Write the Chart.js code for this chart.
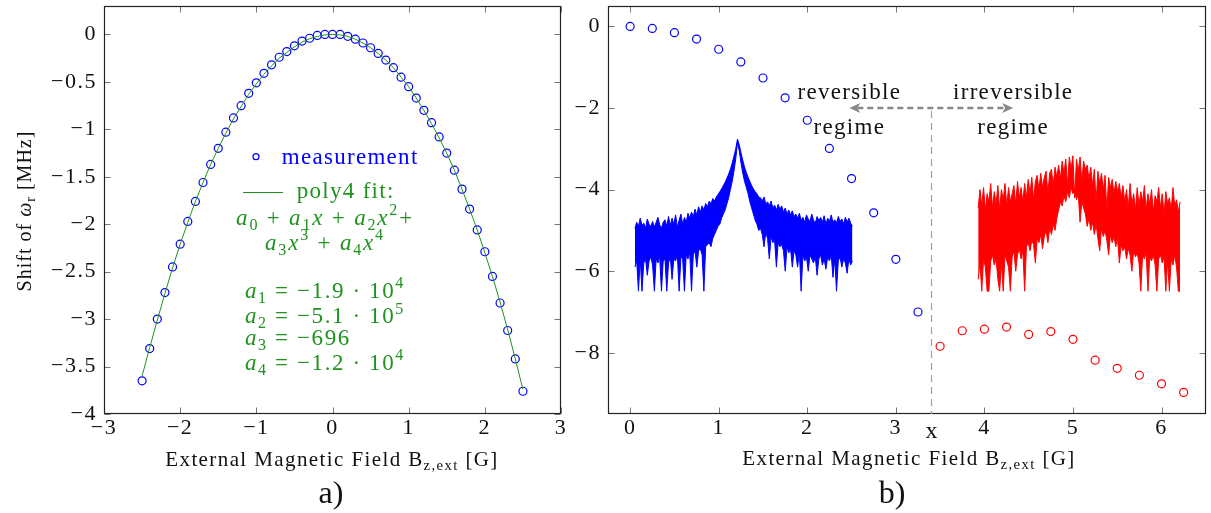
<!DOCTYPE html>
<html><head><meta charset="utf-8">
<script src="https://cdn.jsdelivr.net/npm/chart.js@4.4.1/dist/chart.umd.min.js"></script>
<style>
html,body{margin:0;padding:0;background:#fff;}
#wrap{position:relative;width:1211px;height:513px;overflow:hidden;background:#fff;}
canvas{position:absolute;top:0;}
#cL{left:0;} #cR{left:560px;}
</style></head><body>
<div id="wrap"><canvas id="cL" width="590" height="513"></canvas><canvas id="cR" width="651" height="513"></canvas></div>
<script>
// ---------- data: panel a) ----------
const leftX = [-2.5,-2.4,-2.3,-2.2,-2.1,-2.0,-1.9,-1.8,-1.7,-1.6,-1.5,-1.4,-1.3,-1.2,-1.1,-1.0,-0.9,-0.8,-0.7,-0.6,-0.5,-0.4,-0.3,-0.2,-0.1,0,
  0.1,0.2,0.3,0.4,0.5,0.6,0.7,0.8,0.9,1.0,1.1,1.2,1.3,1.4,1.5,1.6,1.7,1.8,1.9,2.0,2.1,2.2,2.3,2.4,2.5];
const leftMeas = [-3.65,-3.31,-3.00,-2.72,-2.45,-2.21,-1.97,-1.76,-1.56,-1.37,-1.20,-1.03,-0.88,-0.75,-0.62,-0.51,-0.41,-0.32,-0.24,-0.18,-0.12,-0.07,-0.04,-0.01,0.00,0.00,
  0.00,-0.02,-0.05,-0.09,-0.14,-0.20,-0.27,-0.35,-0.45,-0.55,-0.67,-0.80,-0.93,-1.08,-1.25,-1.43,-1.63,-1.84,-2.06,-2.29,-2.55,-2.83,-3.12,-3.42,-3.76];
const leftFit = [-3.60,-3.30,-3.01,-2.73,-2.46,-2.21,-1.98,-1.76,-1.56,-1.37,-1.20,-1.04,-0.89,-0.76,-0.63,-0.52,-0.42,-0.33,-0.25,-0.19,-0.13,-0.08,-0.045,-0.02,-0.005,0.00,
  -0.005,-0.02,-0.05,-0.09,-0.14,-0.20,-0.27,-0.35,-0.45,-0.55,-0.67,-0.80,-0.94,-1.09,-1.25,-1.43,-1.63,-1.84,-2.06,-2.30,-2.55,-2.82,-3.11,-3.42,-3.74];
const leftXTicks = [-3,-2,-1,0,1,2,3];
const leftYTicks = [0,-0.5,-1,-1.5,-2,-2.5,-3,-3.5,-4];

// ---------- data: panel b) ----------
const revX = [0,0.25,0.5,0.75,1,1.25,1.5,1.75,2,2.25,2.5,2.75,3,3.25];
const revY = [0,-0.05,-0.155,-0.31,-0.56,-0.87,-1.265,-1.75,-2.30,-2.99,-3.73,-4.57,-5.71,-7.0];
const irrX = [3.5,3.75,4,4.25,4.5,4.75,5,5.25,5.5,5.75,6,6.25];
const irrY = [-7.84,-7.46,-7.42,-7.37,-7.55,-7.48,-7.67,-8.18,-8.38,-8.55,-8.76,-8.97];
const rightXTicks = [0,1,2,3,4,5,6];
const rightYTicks = [0,-2,-4,-6,-8];
const boundaryLabel = 'x';
const boundaryX = 3.4;
const arrowY = -2;
const arrowTips = [2.475, 4.325];
// inset spectra: upper / lower envelopes (panel-b y units), sampled evenly over the x spans
const blueSpanX = [0.054, 2.51];
const blueUpper = [-4.95,-4.8,-4.9,-4.7,-4.88,-4.82,-4.95,-4.72,-4.85,-4.9,-4.78,-4.92,-4.8,-4.68,-4.86,-4.95,-4.8,-4.74,-4.9,-4.66,-4.88,-4.7,-4.85,-4.62,-4.92,-4.75,-4.6,-4.85,-4.68,
  -4.8,-4.58,-4.7,-4.55,-4.66,-4.48,-4.62,-4.42,-4.55,-4.4,-4.5,-4.34,-4.42,-4.28,-4.35,-4.22,-4.28,
  -4.18,-4.12,-4.05,-3.98,-3.9,-3.82,-3.72,-3.62,-3.5,-3.35,-3.18,-3.0,-2.76,
  -2.9,-3.1,-3.28,-3.45,-3.58,-3.7,-3.8,-3.9,-3.98,-4.05,-4.1,-4.18,
  -4.2,-4.28,-4.18,-4.35,-4.3,-4.4,-4.28,-4.45,-4.38,-4.5,-4.36,-4.48,-4.4,-4.55,-4.45,-4.6,-4.5,-4.62,-4.52,-4.66,
  -4.6,-4.7,-4.58,-4.75,-4.68,-4.8,-4.62,-4.72,-4.78,-4.6,-4.75,-4.82,-4.66,-4.76,-4.68,-4.8,-4.64,-4.85,-4.7,-4.78,-4.62,-4.8,-4.74,-4.82,-4.66,-4.78,-4.72,-4.84,-4.68,-4.8,-4.7,-4.82,-4.9];
const blueLower = [-5.9,-5.75,-6.49,-5.7,-6.49,-5.8,-5.7,-6.1,-5.75,-5.65,-5.85,-6.49,-5.7,-5.8,-5.65,-6.49,-5.75,-5.7,-6.49,-5.8,-5.65,-6.2,-5.7,-5.75,-5.6,-6.49,-5.65,-5.7,-6.49,
  -5.6,-5.7,-5.55,-6.49,-5.6,-5.5,-5.9,-5.5,-5.45,-5.6,-6.49,-5.4,-5.35,-5.3,-5.4,-5.2,-5.1,
  -5.0,-4.9,-4.85,-4.7,-4.6,-4.5,-4.35,-4.2,-4.0,-3.8,-3.55,-3.25,-2.85,
  -3.05,-3.35,-3.6,-3.8,-3.95,-4.1,-4.3,-4.45,-4.6,-4.75,-4.85,-5.0,
  -4.95,-5.1,-5.4,-5.05,-5.2,-5.7,-5.15,-5.3,-5.25,-5.9,-5.3,-5.4,-5.35,-5.5,-6.0,-5.4,-5.55,-5.45,-5.9,-5.5,
  -5.6,-5.9,-5.55,-6.49,-5.6,-5.75,-5.65,-6.0,-5.6,-5.7,-5.8,-5.65,-6.1,-5.7,-5.6,-5.85,-5.7,-5.95,-5.65,-5.75,-5.6,-6.15,-5.7,-6.49,-5.75,-5.65,-5.9,-5.7,-5.8,-6.05,-5.7,-5.85,-5.75];
const redSpanX = [3.93, 6.21];
const redUpper = [-4.45,-4.0,-4.4,-3.95,-4.5,-4.1,-4.3,-3.85,-4.45,-4.05,-4.35,-3.9,-4.5,-4.0,-4.25,-3.85,-4.4,-3.95,-4.3,-4.1,-3.9,-4.35,-3.8,-4.2,-3.95,-4.3,
  -3.85,-4.2,-3.75,-4.1,-3.7,-4.25,-3.8,-3.65,-4.0,-3.6,-3.95,-3.7,-3.55,-4.1,-3.6,-3.5,-3.9,-3.45,-3.7,
  -3.4,-3.75,-3.3,-3.6,-3.25,-3.9,-3.2,-3.5,-3.17,-4.2,-3.25,-3.55,-3.2,-3.8,-3.3,-3.5,
  -3.4,-3.75,-3.45,-3.9,-3.5,-4.3,-3.55,-3.85,-3.6,-4.0,-3.65,-4.5,-3.7,-3.95,-3.75,-4.1,-3.8,-4.05,-3.85,-4.2,
  -3.9,-4.3,-4.0,-4.45,-3.85,-4.35,-4.1,-4.5,-3.95,-4.4,-4.05,-4.3,-3.9,-4.5,-4.1,-4.35,-4.0,-4.55,-4.15,-4.3,-3.95,-4.45,-4.1,-4.6,-4.05,-4.35,-4.2,-4.5,-3.95,-4.4,-4.25,-4.55,-4.3];
const redLower = [-6.2,-5.8,-6.49,-5.7,-5.9,-6.49,-6.49,-5.75,-5.6,-5.85,-5.7,-6.2,-6.49,-5.8,-6.49,-5.6,-5.75,-5.9,-6.49,-5.65,-5.5,-6.0,-5.6,-5.45,-5.7,-5.5,
  -6.49,-5.4,-5.3,-5.5,-5.25,-5.35,-5.8,-5.2,-5.3,-5.1,-5.45,-5.15,-5.0,-5.3,-4.95,-5.1,-4.85,-5.0,-4.7,
  -4.5,-4.3,-4.4,-4.15,-4.3,-4.05,-4.2,-3.95,-4.1,-4.0,-4.25,-4.1,-4.8,-4.3,-4.45,-4.6,
  -4.9,-4.7,-5.0,-4.8,-5.1,-4.85,-5.2,-5.5,-4.95,-5.15,-5.0,-5.25,-5.6,-5.1,-5.3,-5.15,-5.4,-5.2,-5.8,-5.35,
  -5.5,-5.4,-5.7,-5.45,-5.6,-6.0,-5.5,-5.65,-5.55,-5.8,-6.49,-5.6,-5.7,-5.55,-6.49,-5.65,-5.75,-5.6,-5.85,-6.49,-5.7,-5.6,-5.8,-5.65,-6.49,-5.75,-6.49,-5.7,-5.85,-5.6,-5.9,-6.49,-6.49];

// ---------- styling ----------
const FONT = 'Liberation Serif';
const BLUE = '#0000ff', RED = '#ff0000', GREEN = 'rgb(32,146,32)';
const fmt = v => v < 0 ? '\u2212' + String(Math.abs(v)) : String(v);
const pts = (xs, ys) => xs.map((v, i) => ({x: v, y: ys[i]}));
const spec = (span, ys) => ys.map((v, i) => ({x: span[0] + (span[1] - span[0]) * i / (ys.length - 1), y: v}));
const setTicks = list => s => { s.ticks = list.map(v => ({value: v})); };
const zeroPad = s => { s.paddingLeft = s.paddingRight = s.paddingTop = s.paddingBottom = 0; };
const fixW = w => s => { s.width = w; zeroPad(s); };
const fixH = h => s => { s.height = h; zeroPad(s); };

function rich(ctx, parts, x, y, size, color, align, spacing) {
  ctx.save();
  ctx.fillStyle = color; ctx.textBaseline = 'alphabetic'; ctx.textAlign = 'left';
  ctx.letterSpacing = (spacing || 0) + 'px';
  const items = parts.map(([t, st]) => {
    const sub = st === 'sb', sup = st === 'sp';
    const fs = (sub || sup) ? size * 0.7 : size;
    const font = (st === 'i' ? 'italic ' : '') + fs.toFixed(1) + 'px "' + FONT + '"';
    ctx.font = font;
    return {t, font, w: ctx.measureText(t).width, dy: sub ? size * 0.2 : sup ? -size * 0.42 : 0};
  });
  const W = items.reduce((a, b) => a + b.w, 0);
  let cx = align === 'center' ? x - W / 2 : align === 'right' ? x - W : x;
  for (const it of items) { ctx.font = it.font; ctx.fillText(it.t, cx, y + it.dy); cx += it.w; }
  ctx.restore();
  return W;
}

function frameTicks(ctx, a, xp, yp) {
  ctx.save();
  const L = Math.round(a.left) + 0.5, R = Math.round(a.right) - 0.5, T = Math.round(a.top) + 0.5, B = Math.round(a.bottom) - 0.5;
  ctx.strokeStyle = '#777'; ctx.lineWidth = 1;
  ctx.beginPath();
  for (const p of xp) { const q = Math.round(p) + 0.5; ctx.moveTo(q, B); ctx.lineTo(q, B - 6); ctx.moveTo(q, T); ctx.lineTo(q, T + 6); }
  for (const p of yp) { const q = Math.round(p) + 0.5; ctx.moveTo(L, q); ctx.lineTo(L + 6, q); ctx.moveTo(R, q); ctx.lineTo(R - 6, q); }
  ctx.stroke();
  ctx.strokeStyle = '#222'; ctx.lineWidth = 1.2;
  ctx.strokeRect(L, T, R - L, B - T);
  ctx.restore();
}

const tickSpacing = {id: 'tickSpacing', beforeDraw(chart) { chart.ctx.letterSpacing = '1.5px'; }};
const titleParts = [['External Magnetic Field B', 'r'], ['z,ext', 'sb'], [' [G]', 'r']];

const decorL = {
  id: 'decorL',
  afterDatasetsDraw(chart) {
    const {ctx, chartArea: a, scales: {x, y}} = chart;
    frameTicks(ctx, a, leftXTicks.map(v => x.getPixelForValue(v)), leftYTicks.map(v => y.getPixelForValue(v)));
  },
  afterDraw(chart) {
    const ctx = chart.ctx;
    ctx.save();
    ctx.strokeStyle = BLUE; ctx.lineWidth = 1.2;
    ctx.beginPath(); ctx.arc(256, 156.7, 3, 0, Math.PI * 2); ctx.stroke();
    ctx.strokeStyle = GREEN; ctx.lineWidth = 1.2;
    ctx.beginPath(); ctx.moveTo(243, 192.5); ctx.lineTo(283, 192.5); ctx.stroke();
    ctx.restore();
    rich(ctx, [['measurement', 'r']], 281.7, 164, 23, BLUE, 'left', 1.3);
    rich(ctx, [['poly4 fit:', 'r']], 296.7, 198.3, 23, GREEN, 'left', 1.3);
    rich(ctx, [['a', 'i'], ['0', 'sb'], [' + ', 'r'], ['a', 'i'], ['1', 'sb'], ['x', 'i'], [' + ', 'r'], ['a', 'i'], ['2', 'sb'], ['x', 'i'], ['2', 'sp'], ['+', 'r']], 325, 225, 23, GREEN, 'center', 1.8);
    rich(ctx, [['a', 'i'], ['3', 'sb'], ['x', 'i'], ['3', 'sp'], [' + ', 'r'], ['a', 'i'], ['4', 'sb'], ['x', 'i'], ['4', 'sp']], 325, 250, 23, GREEN, 'center', 1.8);
    rich(ctx, [['a', 'i'], ['1', 'sb'], [' = \u22121.9 \u00b7 10', 'r'], ['4', 'sp']], 245, 298, 23, GREEN, 'left', 1.6);
    rich(ctx, [['a', 'i'], ['2', 'sb'], [' = \u22125.1 \u00b7 10', 'r'], ['5', 'sp']], 245, 323.3, 23, GREEN, 'left', 1.6);
    rich(ctx, [['a', 'i'], ['3', 'sb'], [' = \u2212696', 'r']], 245, 345, 23, GREEN, 'left', 1.6);
    rich(ctx, [['a', 'i'], ['4', 'sb'], [' = \u22121.2 \u00b7 10', 'r'], ['4', 'sp']], 245, 370, 23, GREEN, 'left', 1.6);
    ctx.save(); ctx.translate(31, 211); ctx.rotate(-Math.PI / 2);
    rich(ctx, [['Shift of ', 'r'], ['\u03c9', 'i'], ['r', 'sb'], [' [MHz]', 'r']], 0, 0, 20, '#111', 'center', 1);
    ctx.restore();
    rich(ctx, titleParts, 332, 466, 21, '#111', 'center', 1.4);
    rich(ctx, [['a)', 'r']], 331, 503, 32, '#111', 'center', 0);
  }
};

const decorR = {
  id: 'decorR',
  afterDatasetsDraw(chart) {
    const {ctx, chartArea: a, scales: {x, y}} = chart;
    frameTicks(ctx, a, rightXTicks.map(v => x.getPixelForValue(v)), rightYTicks.map(v => y.getPixelForValue(v)));
    const bx = Math.round(x.getPixelForValue(boundaryX)) + 0.5, ay = y.getPixelForValue(arrowY);
    const xl = x.getPixelForValue(arrowTips[0]), xr = x.getPixelForValue(arrowTips[1]);
    ctx.save();
    ctx.strokeStyle = '#a0a0a0'; ctx.lineWidth = 1.2; ctx.setLineDash([7, 5]);
    ctx.beginPath(); ctx.moveTo(bx, ay + 3); ctx.lineTo(bx, a.bottom); ctx.stroke();
    ctx.strokeStyle = '#888'; ctx.lineWidth = 2.4; ctx.setLineDash([6, 4]);
    ctx.beginPath(); ctx.moveTo(xl + 8, ay); ctx.lineTo(xr - 8, ay); ctx.stroke();
    ctx.setLineDash([]); ctx.fillStyle = '#888';
    ctx.beginPath(); ctx.moveTo(xl, ay); ctx.lineTo(xl + 11, ay - 5); ctx.lineTo(xl + 8, ay); ctx.lineTo(xl + 11, ay + 5); ctx.closePath(); ctx.fill();
    ctx.beginPath(); ctx.moveTo(xr, ay); ctx.lineTo(xr - 11, ay - 5); ctx.lineTo(xr - 8, ay); ctx.lineTo(xr - 11, ay + 5); ctx.closePath(); ctx.fill();
    ctx.restore();
    rich(ctx, [['reversible', 'r']], xl, ay - 9.4, 23, '#111', 'center', 1.3);
    rich(ctx, [['regime', 'r']], xl, ay + 25.6, 23, '#111', 'center', 1.3);
    rich(ctx, [['irreversible', 'r']], xr, ay - 9.4, 23, '#111', 'center', 1.3);
    rich(ctx, [['regime', 'r']], xr, ay + 25.6, 23, '#111', 'center', 1.3);
    rich(ctx, [[boundaryLabel, 'r']], bx, 438, 24, '#111', 'center', 0);
  },
  afterDraw(chart) {
    const ctx = chart.ctx;
    rich(ctx, titleParts, 349, 465, 21, '#111', 'center', 1.4);
    rich(ctx, [['b)', 'r']], 332, 503, 32, '#111', 'center', 0);
  }
};

Chart.defaults.font.family = FONT;
const tickFont = {family: FONT, size: 22};
const common = {
  responsive: false, animation: false, devicePixelRatio: 1, events: [],
  plugins: {legend: {display: false}, tooltip: {enabled: false}}
};
const axis = (min, max, list, fit, pad) => ({
  type: 'linear', min, max, afterBuildTicks: setTicks(list), afterFit: fit,
  grid: {display: false, drawTicks: false}, border: {display: false},
  ticks: {autoSkip: false, maxRotation: 0, padding: pad, font: tickFont, color: '#111', callback: v => fmt(v)}
});
const band = (label, span, ys, color, fill) => ({label, type: 'line', data: spec(span, ys), borderColor: color, backgroundColor: color,
  borderWidth: 1, pointRadius: 0, tension: 0, borderJoinStyle: 'bevel', fill});

new Chart(document.getElementById('cL'), {
  type: 'scatter',
  data: {datasets: [
    {label: 'measurement', data: pts(leftX, leftMeas), showLine: false, pointStyle: 'circle', pointRadius: 4, pointBorderWidth: 1.2,
     borderColor: BLUE, pointBorderColor: BLUE, pointBackgroundColor: 'rgba(0,0,0,0)', order: 2},
    {label: 'poly4 fit', type: 'line', data: pts(leftX, leftFit), borderColor: GREEN, borderWidth: 1, pointRadius: 0, fill: false, tension: 0, order: 1}
  ]},
  options: Object.assign({}, common, {
    layout: {padding: {left: 0, right: 29, top: 6, bottom: 0}},
    scales: {x: axis(-3, 3, leftXTicks, fixH(99), 1), y: axis(-4, 0.3, leftYTicks, fixW(104), 7)}
  }),
  plugins: [tickSpacing, decorL]
});

new Chart(document.getElementById('cR'), {
  type: 'scatter',
  data: {datasets: [
    {label: 'reversible', data: pts(revX, revY), showLine: false, pointStyle: 'circle', pointRadius: 4, pointBorderWidth: 1.2,
     borderColor: BLUE, pointBorderColor: BLUE, pointBackgroundColor: 'rgba(0,0,0,0)'},
    {label: 'irreversible', data: pts(irrX, irrY), showLine: false, pointStyle: 'circle', pointRadius: 4, pointBorderWidth: 1.2,
     borderColor: RED, pointBorderColor: RED, pointBackgroundColor: 'rgba(0,0,0,0)'},
    band('spectrum rev (upper)', blueSpanX, blueUpper, BLUE, false),
    band('spectrum rev (lower)', blueSpanX, blueLower, BLUE, '-1'),
    band('spectrum irr (upper)', redSpanX, redUpper, RED, false),
    band('spectrum irr (lower)', redSpanX, redLower, RED, '-1')
  ]},
  options: Object.assign({}, common, {
    layout: {padding: {left: 0, right: 2, top: 6, bottom: 0}},
    scales: {x: axis(-0.25, 6.5, rightXTicks, fixH(99), 1), y: axis(-9.5, 0.5, rightYTicks, fixW(48), 7)}
  }),
  plugins: [tickSpacing, decorR]
});
</script></body></html>
